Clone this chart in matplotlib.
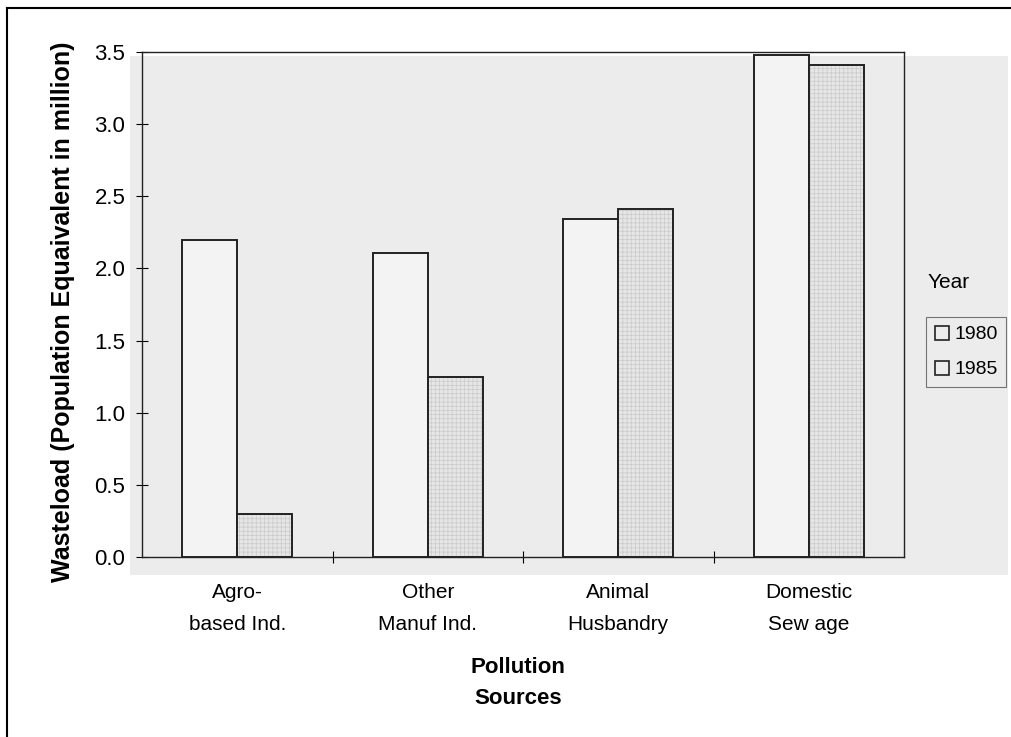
import numpy as np
import matplotlib
matplotlib.use('Agg')
import matplotlib.pyplot as plt
from matplotlib.lines import Line2D
from matplotlib.patches import Rectangle

# Data
categories = ['Agro-\nbased Ind.', 'Other\nManuf Ind.', 'Animal\nHusbandry', 'Domestic\nSew age']
years = ['1980', '1985']
load_1980 = [2.20, 2.11, 2.34, 3.48]
load_1985 = [0.30, 1.25, 2.41, 3.41]
y_ticks = [0.0, 0.5, 1.0, 1.5, 2.0, 2.5, 3.0, 3.5]

plt.rcParams['font.family'] = ['Liberation Sans', 'DejaVu Sans']
plt.rcParams['hatch.linewidth'] = 0.5

W, H = 1011, 737
fig = plt.figure(figsize=(W / 100, H / 100), dpi=100)
fig.patch.set_facecolor('white')

# scanned-page grey shading behind the plot
fig.patches.append(Rectangle((130 / W, 1 - 575 / H), (1008 - 130) / W, (575 - 56) / H,
                             transform=fig.transFigure, facecolor='#ececec',
                             edgecolor='none', zorder=0))
# outer frame (left and top edges visible)
fig.add_artist(Line2D([7 / W, 7 / W], [1 - 8 / H, 0], transform=fig.transFigure,
                      color='black', lw=1.5))
fig.add_artist(Line2D([7 / W, 1], [1 - 8 / H, 1 - 8 / H], transform=fig.transFigure,
                      color='black', lw=1.5))

ax = fig.add_axes([142 / W, 1 - 557 / H, (904 - 142) / W, (557 - 52) / H])
ax.set_facecolor('none')
ax.set_zorder(2)

x = np.arange(len(categories))
bw = 0.29
ax.bar(x - bw / 2, load_1980, bw, facecolor='#f3f3f3', edgecolor='#222222', linewidth=1.4, zorder=3)
ax.bar(x + bw / 2, load_1985, bw, facecolor='#e6e6e6', edgecolor='#cacaca', hatch='++++',
       linewidth=0, zorder=3)
ax.bar(x + bw / 2, load_1985, bw, facecolor='none', edgecolor='#222222', linewidth=1.4, zorder=4)

ax.set_xlim(-0.5, len(categories) - 0.5)
ax.set_ylim(0, 3.5)
ax.set_yticks(y_ticks)
ax.set_yticklabels([f'{v:.1f}' for v in y_ticks], fontsize=16)
ax.tick_params(axis='y', direction='inout', length=8, width=0.8, pad=8)

ax.set_xticks(x)
ax.set_xticklabels(categories, fontsize=15, linespacing=1.85)
ax.set_xticks(np.arange(len(categories) - 1) + 0.5, minor=True)
ax.tick_params(axis='x', which='major', length=0, pad=19)
ax.tick_params(axis='x', which='minor', direction='inout', length=8, width=0.8)

for s in ax.spines.values():
    s.set_linewidth(1.0)
    s.set_color('#222222')

ax.set_ylabel('Wasteload (Population Equaivalent in million)', fontsize=18,
              fontweight='bold')
ax.yaxis.set_label_coords(-0.088, 0.485)
fig.text(518 / W, 1 - 683 / H, 'Pollution\nSources', ha='center', va='center',
         fontsize=16, fontweight='bold', linespacing=1.65)

# legend
fig.text(928 / W, 1 - 282 / H, 'Year', ha='left', va='center', fontsize=15)
handles = [Line2D([], [], marker='s', linestyle='none', markersize=10,
                  markerfacecolor='none', markeredgecolor='#222222', markeredgewidth=1.2)
           for _ in years]
leg = fig.legend(handles, years, loc='upper left', bbox_to_anchor=(926 / W, 1 - 317 / H),
                 bbox_transform=fig.transFigure, fancybox=False, frameon=True,
                 prop={'size': 14}, handlelength=0.75, handletextpad=0.25,
                 borderpad=0.45, labelspacing=0.9, borderaxespad=0)
leg.get_frame().set_edgecolor('#555555')
leg.get_frame().set_facecolor('none')
leg.get_frame().set_linewidth(0.8)

fig.savefig('out.png', dpi=100)
